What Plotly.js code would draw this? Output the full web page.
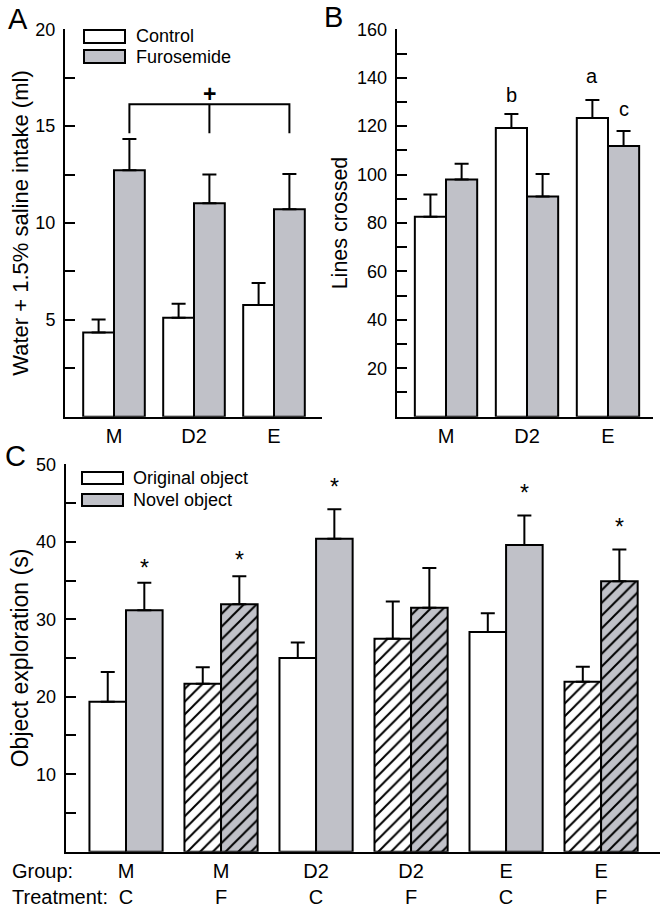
<!DOCTYPE html>
<html><head><meta charset="utf-8">
<script src="https://cdn.plot.ly/plotly-3.0.1.min.js"></script>
<style>html,body{margin:0;padding:0;background:#fff}#chart{width:663px;height:912px}</style>
</head><body><div id="chart"></div><script>
// ---------- Panel A: water + 1.5% saline intake ----------
const groupsA = ['M', 'D2', 'E'];
const controlA = [4.35, 5.11, 5.77];
const controlA_sem = [0.67, 0.72, 1.13];
const furoA = [12.72, 11.02, 10.71];
const furoA_sem = [1.62, 1.49, 1.82];
const tickvalsA = [2.5, 5, 7.5, 10, 12.5, 15, 17.5, 20];
const ticktextA = ['', '5', '', '10', '', '15', '', '20'];
const bracketA = {top: 16.13, bottom: 14.63, label: '+', labelY: 16.66};

// ---------- Panel B: lines crossed ----------
const groupsB = ['M', 'D2', 'E'];
const controlB = [82.6, 119.2, 123.4];
const controlB_sem = [9.2, 5.8, 7.4];
const furoB = [98.0, 90.9, 111.8];
const furoB_sem = [6.5, 9.3, 6.2];
const lettersB_control = ['', 'b', 'a'];
const lettersB_controlY = [null, 132.2, 140.0];
const lettersB_furo = ['', '', 'c'];
const lettersB_furoY = [null, null, 126.3];
const tickvalsB = [10, 20, 30, 40, 50, 60, 70, 80, 90, 100, 110, 120, 130, 140, 150, 160];
const ticktextB = ['', '20', '', '40', '', '60', '', '80', '', '100', '', '120', '', '140', '', '160'];

// ---------- Panel C: object exploration ----------
const groupC = ['M', 'M', 'D2', 'D2', 'E', 'E'];
const treatC = ['C', 'F', 'C', 'F', 'C', 'F'];
const originalC = [19.35, 21.67, 25.0, 27.5, 28.37, 21.93];
const originalC_sem = [3.83, 2.15, 2.0, 4.8, 2.4, 1.93];
const novelC = [31.16, 31.93, 40.4, 31.5, 39.6, 34.9];
const novelC_sem = [3.56, 3.61, 3.8, 5.1, 3.8, 4.1];
const starC = [37.25, 38.3, 47.7, null, 46.9, 42.6];
const tickvalsC = [5, 10, 15, 20, 25, 30, 35, 40, 45, 50];
const ticktextC = ['', '10', '', '20', '', '30', '', '40', '', '50'];

// ---------- styling ----------
const FONT = 'Liberation Sans, Arial, Helvetica, sans-serif';
const GRAY = '#c0c1c8';
const W = 663, H = 912;
const px = v => v / W;
const py = v => 1 - v / H;
const BARGAP = 0.23;
const OFF = (1 - BARGAP) / 4;   // center offset of each bar in a pair

const idx = arr => arr.map((_, i) => i);
const zeros = arr => arr.map(() => 0);

function errY(sem) {
  return {type: 'data', array: sem, arrayminus: zeros(sem), symmetric: false,
          color: '#000', thickness: 2, width: 7};
}
const lineBlack = {color: '#000', width: 2};

const traces = [];
// A
traces.push({type: 'bar', x: idx(groupsA), y: controlA, name: 'Control', xaxis: 'x', yaxis: 'y',
  marker: {color: '#ffffff', line: lineBlack}, error_y: errY(controlA_sem), showlegend: false});
traces.push({type: 'bar', x: idx(groupsA), y: furoA, name: 'Furosemide', xaxis: 'x', yaxis: 'y',
  marker: {color: GRAY, line: lineBlack}, error_y: errY(furoA_sem), showlegend: false});
// bracket over furosemide bars
const bx = idx(groupsA).map(i => i + OFF);
traces.push({type: 'scatter', mode: 'lines', xaxis: 'x', yaxis: 'y', showlegend: false, hoverinfo: 'skip',
  x: [bx[0], bx[0], bx[2], bx[2], null, bx[1], bx[1]],
  y: [bracketA.bottom, bracketA.top, bracketA.top, bracketA.bottom, null, bracketA.top, bracketA.bottom],
  line: {color: '#000', width: 2}});
// B
traces.push({type: 'bar', x: idx(groupsB), y: controlB, name: 'Control', xaxis: 'x2', yaxis: 'y2',
  marker: {color: '#ffffff', line: lineBlack}, error_y: errY(controlB_sem), showlegend: false});
traces.push({type: 'bar', x: idx(groupsB), y: furoB, name: 'Furosemide', xaxis: 'x2', yaxis: 'y2',
  marker: {color: GRAY, line: lineBlack}, error_y: errY(furoB_sem), showlegend: false});
// C
const shapesC = treatC.map(t => t === 'F' ? '/' : '');
traces.push({type: 'bar', x: idx(groupC), y: originalC, name: 'Original object', xaxis: 'x3', yaxis: 'y3',
  marker: {color: '#ffffff', line: lineBlack,
    pattern: {shape: shapesC, fgcolor: '#000', bgcolor: '#ffffff', size: 9, solidity: 0.22}},
  error_y: errY(originalC_sem), showlegend: false});
traces.push({type: 'bar', x: idx(groupC), y: novelC, name: 'Novel object', xaxis: 'x3', yaxis: 'y3',
  marker: {color: GRAY, line: lineBlack,
    pattern: {shape: shapesC, fgcolor: '#000', bgcolor: GRAY, size: 9, solidity: 0.22}},
  error_y: errY(novelC_sem), showlegend: false});

function yax(domain, range, tv, tt, title, tsize, standoff) {
  return {domain: domain, range: range, tickvals: tv, ticktext: tt, ticks: 'inside', ticklen: 10, tickwidth: 2,
    tickcolor: '#000', showline: true, linewidth: 2, linecolor: '#000', zeroline: false, showgrid: false,
    tickfont: {family: FONT, size: 18, color: '#000'}, ticklabelstandoff: 4,
    title: {text: title, font: {family: FONT, size: tsize, color: '#000'}, standoff: standoff},
    fixedrange: true, automargin: false};
}
function xax(domain, range, tv, tt, anchor) {
  return {domain: domain, range: range, tickvals: tv, ticktext: tt, ticks: '', showline: true, linewidth: 2,
    linecolor: '#000', zeroline: false, showgrid: false, anchor: anchor,
    tickfont: {family: FONT, size: 20, color: '#000'}, fixedrange: true, automargin: false};
}

const ann = [];
function text(x, y, t, size, opts) {
  ann.push(Object.assign({xref: 'paper', yref: 'paper', x: px(x), y: py(y), text: t, showarrow: false,
    font: {family: FONT, size: size, color: '#000'}, xanchor: 'center', yanchor: 'middle'}, opts || {}));
}
// panel letters
text(17.5, 19, 'A', 29);
text(333, 17, 'B', 29);
text(15, 456, 'C', 29);
// legends (text)
text(134, 36, 'Control', 18, {xanchor: 'left'});
text(134, 57, 'Furosemide', 18, {xanchor: 'left'});
text(131, 478, 'Original object', 18, {xanchor: 'left'});
text(131, 500, 'Novel object', 18, {xanchor: 'left'});
// row headers panel C
text(10, 871, 'Group:', 20, {xanchor: 'left'});
text(10, 897, 'Treatment:', 20, {xanchor: 'left'});
// bracket label
ann.push({xref: 'x', yref: 'y', x: bx[1], y: bracketA.labelY, text: '<b>' + bracketA.label + '</b>', showarrow: false,
  font: {family: FONT, size: 23, color: '#000'}, yanchor: 'middle'});
// letters panel B
lettersB_control.forEach((l, i) => { if (l) ann.push({xref: 'x2', yref: 'y2', x: i - OFF, y: lettersB_controlY[i], text: l,
  showarrow: false, font: {family: FONT, size: 20, color: '#000'}, yanchor: 'middle', yshift: 2}); });
lettersB_furo.forEach((l, i) => { if (l) ann.push({xref: 'x2', yref: 'y2', x: i + OFF, y: lettersB_furoY[i], text: l,
  showarrow: false, font: {family: FONT, size: 20, color: '#000'}, yanchor: 'middle', yshift: 2}); });
// stars panel C
starC.forEach((s, i) => { if (s !== null) ann.push({xref: 'x3', yref: 'y3', x: i + OFF, y: s, text: '*',
  showarrow: false, font: {family: FONT, size: 23, color: '#000'}, yanchor: 'middle', yshift: -5}); });

// legend boxes
const shapes = [];
function box(x0, y0, x1, y1, fill) {
  shapes.push({type: 'rect', xref: 'paper', yref: 'paper', x0: px(x0), x1: px(x1), y0: py(y1), y1: py(y0),
    line: {color: '#000', width: 2}, fillcolor: fill});
}
box(84, 30, 125, 43, '#ffffff');
box(84, 50, 125, 63, GRAY);
box(82, 472, 123, 484, '#ffffff');
box(82, 494, 123, 506, GRAY);

const layout = {
  width: W, height: H, margin: {l: 0, r: 0, t: 0, b: 0}, paper_bgcolor: '#fff', plot_bgcolor: 'rgba(0,0,0,0)',
  barmode: 'group', bargap: BARGAP, bargroupgap: 0, showlegend: false,
  font: {family: FONT, color: '#000'},
  xaxis: xax([px(65), px(322)], [-0.6125, 2.6], idx(groupsA), groupsA, 'y'),
  yaxis: Object.assign(yax([py(416.7), py(29.3)], [0, 20], tickvalsA, ticktextA, 'Water + 1.5% saline intake (ml)', 22, 1), {anchor: 'x'}),
  xaxis2: xax([px(396.7), px(653)], [-0.609, 2.556], idx(groupsB), groupsB, 'y2'),
  yaxis2: Object.assign(yax([py(416.7), py(29.3)], [0, 160], tickvalsB, ticktextB, 'Lines crossed', 21.5, 4), {anchor: 'x2'}),
  xaxis3: xax([px(65.7), px(660)], [-0.635, 5.62], idx(groupC), groupC.map((g, i) => g + '<br>' + treatC[i]), 'y3'),
  yaxis3: Object.assign(yax([py(851.7), py(464.3)], [0, 50], tickvalsC, ticktextC, 'Object exploration (s)', 23, 1), {anchor: 'x3'}),
  annotations: ann, shapes: shapes
};
Plotly.newPlot('chart', traces, layout, {displayModeBar: false, staticPlot: true});
</script></body></html>
